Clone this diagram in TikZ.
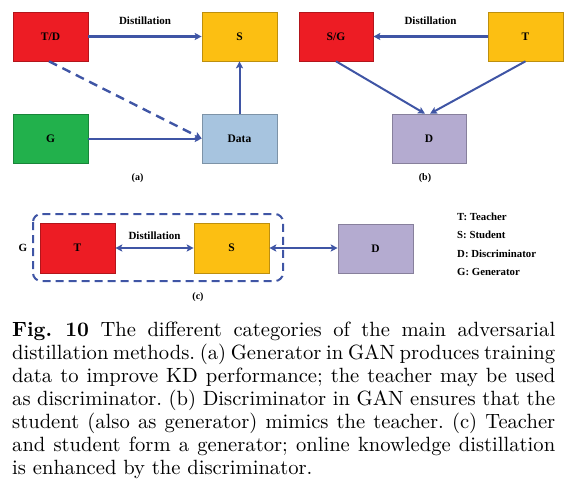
\documentclass[tikz,border=0pt]{standalone}
\usepackage{fontspec}
\newfontfamily\figfont{Liberation Serif}
\usetikzlibrary{arrows.meta}

\definecolor{tdred}{HTML}{ED1C24}
\definecolor{stuyellow}{HTML}{FCBF12}
\definecolor{gengreen}{HTML}{22B14C}
\definecolor{datablue}{HTML}{A7C4DF}
\definecolor{discpurple}{HTML}{B4ABD0}
\definecolor{arrowblue}{HTML}{3F55A5}

\begin{document}
\begin{tikzpicture}[x=1pt,y=-1pt,
    kdbox/.style={draw=#1!75!black, line width=0.6pt, fill=#1,
      minimum width=75pt, minimum height=49pt, inner sep=0pt,
      font=\figfont\bfseries\fontsize{11.5}{13}\selectfont},
    tag/.style={font=\figfont\bfseries\fontsize{10}{12}\selectfont, inner sep=0pt},
    legend/.style={font=\figfont\bfseries\fontsize{10.8}{12}\selectfont, inner sep=0pt, anchor=west},
    link/.style={draw=arrowblue, line width=2pt,
      -{Stealth[length=7pt,width=7pt,inset=1.5pt]}},
    distil/.style={link, line width=2.8pt},
    caption/.style={inner sep=0pt, font=\fontsize{10}{11.17}\selectfont}]
  \useasboundingbox (0,0) rectangle (577,482);

  % --- Helper: \legendentry{name}{y}{text} ---
  % Puts one line of the key at the right-hand side of panel (c).
  \newcommand{\legendentry}[3]{%
    \node[legend] (#1) at (457,#2) {#3};}

  % --- (a): generator produces data, teacher may act as discriminator ---
  \node[kdbox=tdred]     (td)   at (50.5,36.5)  {T/D};
  \node[kdbox=stuyellow] (sa)   at (239.5,36.5) {S};
  \node[kdbox=gengreen]  (ga)   at (50.5,138.5) {G};
  \node[kdbox=datablue]  (data) at (239.5,138.5) {Data};
  \draw[distil] (td) -- node[tag, font=\figfont\bfseries\fontsize{11}{13}\selectfont, above=10pt] {Distillation} (sa);
  \draw[link] (ga) -- (data);
  \draw[link] (data) -- (sa);
  \draw[link, dash pattern=on 9pt off 6pt, line width=2.4pt]
    (td.south) ++(-1.5,0) coordinate (tdfoot) (tdfoot) -- (data.west);
  \node[tag] (capa) at (137.5,178) {(a)};

  % --- (b): discriminator checks the student against the teacher ---
  \node[kdbox=tdred, minimum width=74pt] (sg) at (336,36.5)  {S/G};
  \node[kdbox=stuyellow] (tb) at (525.5,36.5) {T};
  \node[kdbox=discpurple, minimum width=74pt] (db) at (429,138.5) {D};
  \draw[distil] (tb) -- node[tag, font=\figfont\bfseries\fontsize{11}{13}\selectfont, above=10pt] {Distillation} (sg);
  \draw[link] (sg.south) -- ([xshift=-4pt]db.north);
  \draw[link] (tb.south) -- ([xshift=1pt]db.north);
  \node[tag] (capb) at (425,178) {(b)};

  % --- (c): teacher and student together form the generator ---
  \node[kdbox=tdred, minimum height=50pt]     (tc) at (77.5,248)  {T};
  \node[kdbox=stuyellow, minimum height=50pt] (sc) at (231.5,248) {S};
  \node[kdbox=discpurple] (dc) at (375.5,248.5) {D};
  \draw[arrowblue, line width=2pt, dash pattern=on 8pt off 5pt, rounded corners=8pt]
    (33,214) rectangle (283,281);
  \node[tag, font=\figfont\bfseries\fontsize{11}{13}\selectfont] (gc) at (23,248) {G};
  \draw[distil, {Stealth[length=7pt,width=7pt,inset=1.5pt]}-{Stealth[length=7pt,width=7pt,inset=1.5pt]}]
    (tc) -- node[tag, font=\figfont\bfseries\fontsize{11}{13}\selectfont, above=7pt] {Distillation} (sc);
  \draw[link, {Stealth[length=7pt,width=7pt,inset=1.5pt]}-{Stealth[length=7pt,width=7pt,inset=1.5pt]}]
    (sc.east) -- (dc.west |- sc.east);
  \node[tag] (capc) at (198,297) {(c)};

  % Key to the letters.
  \legendentry{keyt}{217}{T: Teacher}
  \legendentry{keys}{235}{S: Student}
  \legendentry{keyd}{254}{D: Discriminator}
  \legendentry{keyg}{272}{G: Generator}

  % --- Figure caption, set at 10pt and blown up to the page ---
  \node[caption, anchor=north west] (caption) at (12,322)
    {\scalebox{2.06}{\parbox[t]{263.6pt}{\frenchspacing
     \textbf{Fig.~10} The different categories of the main adversarial\linebreak
     distillation methods. (a) Generator in GAN produces training\linebreak
     data to improve KD performance; the teacher may be used\linebreak
     as discriminator. (b) Discriminator in GAN ensures that the\linebreak
     student (also as generator) mimics the teacher. (c) Teacher\linebreak
     and student form a generator; online knowledge distillation\linebreak
     is enhanced by the discriminator.}}};
\end{tikzpicture}
\end{document}
